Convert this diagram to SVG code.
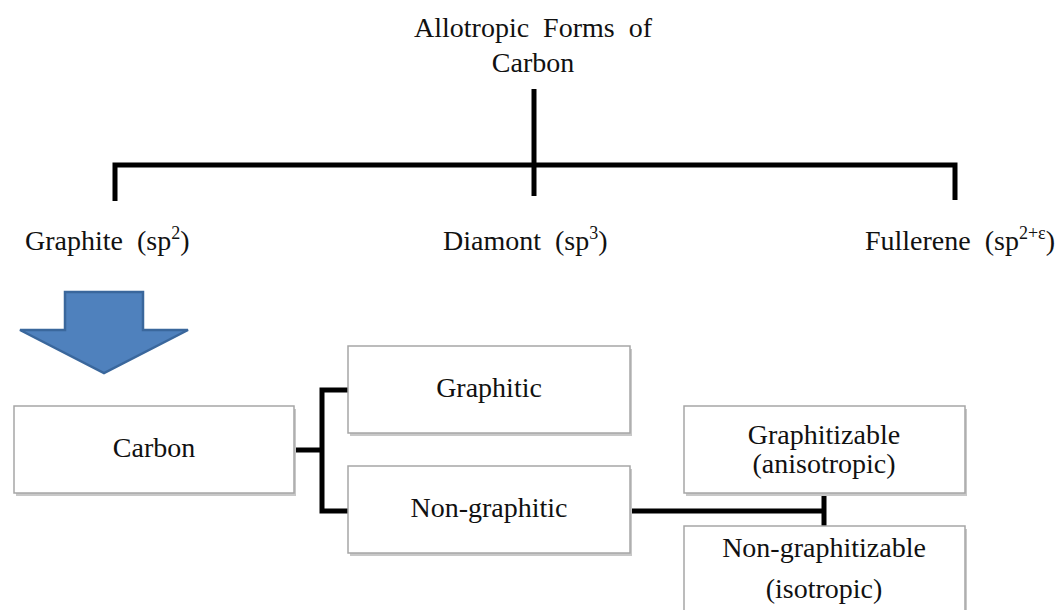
<svg xmlns="http://www.w3.org/2000/svg" width="1059" height="610" viewBox="0 0 1059 610">
<style>
.box{fill:#fff;stroke:#a6a6a6;stroke-width:1.5;}
.sh{fill:#c8c8c8;}
.ln{fill:none;stroke:#000;stroke-width:5;stroke-linejoin:miter;}
</style>
<rect width="1059" height="610" fill="#fff"/>
<g id="connectors">
<path class="ln" d="M534 89V196"/>
<path class="ln" d="M115 201V165H955V200"/>
<path class="ln" d="M294 450H322M348 390H322V511H348"/>
<path class="ln" d="M630 511H824M824 493V526"/>
</g>
<g id="title">
<text style="font-family:'Liberation Serif',serif !important" font-size="28" fill="#111" text-anchor="middle" x="533" y="37" xml:space="preserve">Allotropic  Forms  of</text>
<text style="font-family:'Liberation Serif',serif !important" font-size="28" fill="#111" text-anchor="middle" x="533" y="72">Carbon</text>
</g>
<g id="graphite">
<text style="font-family:'Liberation Serif',serif !important" font-size="28" fill="#111" x="25" y="250" xml:space="preserve">Graphite  (sp<tspan font-size="18" dy="-11">2</tspan><tspan dy="11">)</tspan></text>
</g>
<g id="diamont">
<text style="font-family:'Liberation Serif',serif !important" font-size="28" fill="#111" x="443" y="250" xml:space="preserve">Diamont  (sp<tspan font-size="18" dy="-11">3</tspan><tspan dy="11">)</tspan></text>
</g>
<g id="fullerene">
<text style="font-family:'Liberation Serif',serif !important" font-size="28" fill="#111" x="1055" y="250" text-anchor="end" xml:space="preserve">Fullerene  (sp<tspan font-size="18" dy="-11">2+ε</tspan><tspan dy="11">)</tspan></text>
</g>
<g id="arrow">
<path d="M65 292H143V330H188L104 373L20 330H65Z" fill="#4f81bd" stroke="#3a679c" stroke-width="2.5" stroke-linejoin="miter"/>
</g>
<g id="carbon">
<rect class="sh" x="16" y="409" width="280" height="87"/>
<rect class="box" x="14" y="406" width="280" height="87"/>
<text style="font-family:'Liberation Serif',serif !important" font-size="28" fill="#111" text-anchor="middle" x="154" y="457">Carbon</text>
</g>
<g id="graphitic">
<rect class="sh" x="350" y="349" width="282" height="87"/>
<rect class="box" x="348" y="346" width="282" height="87"/>
<text style="font-family:'Liberation Serif',serif !important" font-size="28" fill="#111" text-anchor="middle" x="489" y="397">Graphitic</text>
</g>
<g id="nongraphitic">
<rect class="sh" x="350" y="469" width="282" height="87"/>
<rect class="box" x="348" y="466" width="282" height="87"/>
<text style="font-family:'Liberation Serif',serif !important" font-size="28" fill="#111" text-anchor="middle" x="489" y="517">Non-graphitic</text>
</g>
<g id="graphitizable">
<rect class="sh" x="686" y="409" width="281" height="87"/>
<rect class="box" x="684" y="406" width="281" height="87"/>
<text style="font-family:'Liberation Serif',serif !important" font-size="28" fill="#111" text-anchor="middle" x="824" y="444">Graphitizable</text>
<text style="font-family:'Liberation Serif',serif !important" font-size="28" fill="#111" text-anchor="middle" x="824" y="473">(anisotropic)</text>
</g>
<g id="nongraphitizable">
<rect class="sh" x="686" y="529" width="281" height="90"/>
<rect class="box" x="684" y="526" width="281" height="90"/>
<text style="font-family:'Liberation Serif',serif !important" font-size="28" fill="#111" text-anchor="middle" x="824" y="557">Non-graphitizable</text>
<text style="font-family:'Liberation Serif',serif !important" font-size="28" fill="#111" text-anchor="middle" x="824" y="598">(isotropic)</text>
</g>
</svg>
